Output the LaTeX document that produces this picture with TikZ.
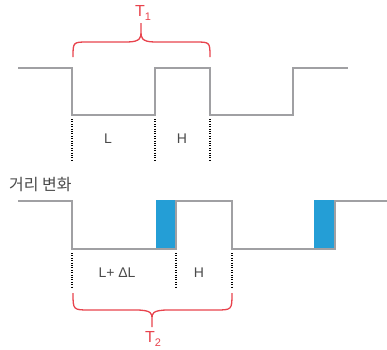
\documentclass[tikz,border=0pt]{standalone}
\usepackage{fontspec}
\setmainfont{Liberation Sans}
\newfontfamily\kofont{Noto Sans CJK KR}
\usepackage{tikz}
\usetikzlibrary{positioning}
\definecolor{sig}{HTML}{A0A0A3}
\definecolor{brc}{HTML}{E8434D}
\definecolor{dblue}{HTML}{249ED6}
\definecolor{txt}{HTML}{4A4A4A}
\tikzset{
  wave/.style={sig, line width=2.4pt, line join=miter},
  marker/.style={black, line width=1.1pt, dash pattern=on 1pt off 1.4pt},
  brace/.style={brc, line width=1.3pt},
  lbl/.style={txt, font=\fontsize{14}{14}\selectfont, inner sep=0pt},
  tlbl/.style={brc, font=\fontsize{16}{16}\selectfont, inner sep=0pt}
}

\begin{document}
\begin{tikzpicture}[x=1pt,y=-1pt]
    \useasboundingbox (0,0) rectangle (387,349);
    % T_1
    \draw[wave] (18,68) -- (72,68) -- (72,115) -- (155,115) -- (155,68) -- (210,68) -- (210,115) -- (293,115) -- (293,68) -- (348,68);
    \draw[marker] (72,119) -- (72,162);
    \draw[marker] (155,119) -- (155,162);
    \draw[marker] (210,119) -- (210,162);
    \node[lbl] (low1) at (108,139) {L};
    \node[lbl] (high1) at (182,139) {H};
    \draw[brace] (73,57) .. controls (73,42) .. (88,42) -- (127,42) .. controls (141,42) and (141,37) .. (141,32) -- (141,23)
                 (141,32) .. controls (141,37) and (141,42) .. (155,42) -- (195,42) .. controls (210,42) .. (210,57);
    \node[tlbl] (t1) at (143,13) {T\raisebox{-0.4ex}{\fontsize{11}{11}\selectfont 1}};
    % T_2
    \node[txt, font=\kofont\fontsize{16}{16}\selectfont, inner sep=0pt, anchor=west] (dist) at (9,185) {거리 변화};
    \fill[dblue] (156,200) rectangle (176,248);
    \fill[dblue] (314,200) rectangle (335,248);
    \draw[wave] (18,201) -- (72,201) -- (72,249) -- (176,249) -- (176,201) -- (232,201) -- (232,249) -- (335,249) -- (335,201) -- (387,201);
    \draw[marker] (72,253) -- (72,288);
    \draw[marker] (176,253) -- (176,288);
    \draw[marker] (232,253) -- (232,288);
    \node[lbl] (low2) at (117,273) {L+ ΔL};
    \node[lbl] (high2) at (199,273) {H};
    \draw[brace] (73,293) .. controls (73,310) .. (90,310) -- (136,310) .. controls (152,310) and (152,314) .. (152,318) -- (152,327)
                 (152,318) .. controls (152,314) and (152,310) .. (168,310) -- (215,310) .. controls (232,310) .. (232,293);
    \node[tlbl] (t2) at (153,339) {T\raisebox{-0.4ex}{\fontsize{11}{11}\selectfont 2}};
\end{tikzpicture}
\end{document}
